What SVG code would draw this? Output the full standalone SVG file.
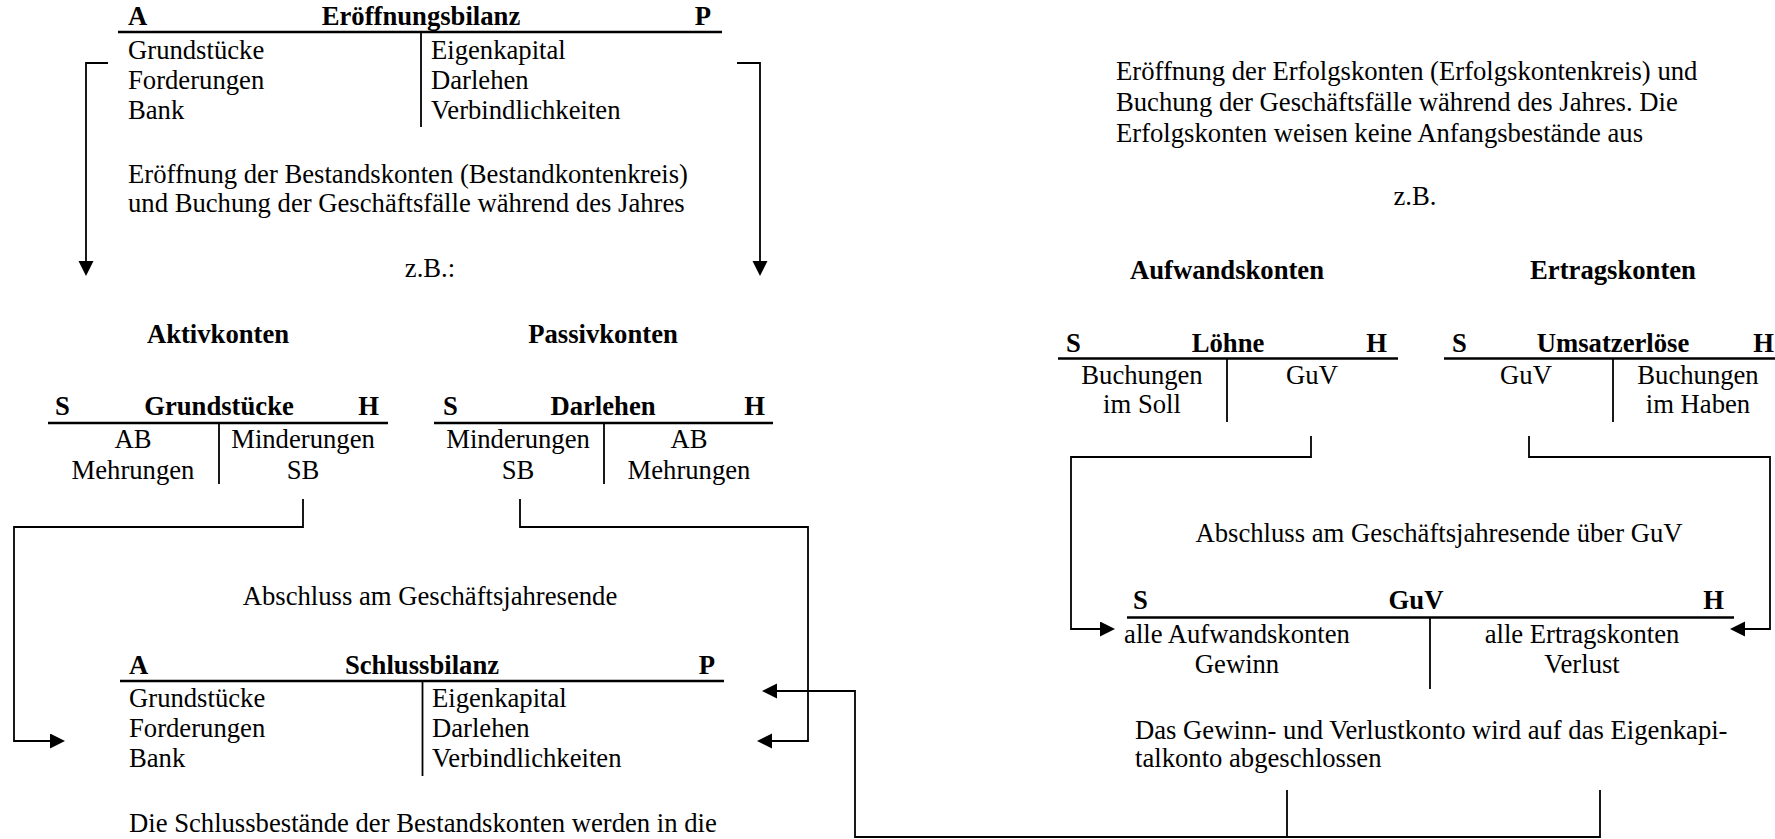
<svg xmlns="http://www.w3.org/2000/svg" width="1775" height="839" viewBox="0 0 1775 839">
<style>
text{font-family:"Liberation Serif","Times New Roman",serif;font-size:26.67px;fill:#000}
.b{font-weight:bold}
.m{text-anchor:middle}
.e{text-anchor:end}
.ul{stroke:#000;stroke-width:2.5;fill:none}
.vl{stroke:#000;stroke-width:1.8;fill:none}
.cn{stroke:#000;stroke-width:1.8;fill:none}
.ar{marker-end:url(#ah)}
</style>
<defs>
<marker id="ah" markerUnits="userSpaceOnUse" markerWidth="16" markerHeight="16" refX="13" refY="7.5" orient="auto" viewBox="0 0 16 16">
<path d="M0,0 L15,7.5 L0,15 z" fill="#000"/>
</marker>
</defs>
<rect width="1775" height="839" fill="#fff"/>

<g id="eroeffnungsbilanz">
<text x="128" y="25" class="b">A</text>
<text x="421" y="25" class="b m">Eröffnungsbilanz</text>
<text x="711" y="25" class="b e">P</text>
<line x1="118" y1="32" x2="722" y2="32" class="ul"/>
<line x1="421" y1="32" x2="421" y2="127" class="vl"/>
<text x="128" y="59">Grundstücke</text>
<text x="128" y="89">Forderungen</text>
<text x="128" y="119">Bank</text>
<text x="431" y="59">Eigenkapital</text>
<text x="431" y="89">Darlehen</text>
<text x="431" y="119">Verbindlichkeiten</text>
</g>

<g id="text-bestandskonten">
<text x="128" y="183">Eröffnung der Bestandskonten (Bestandkontenkreis)</text>
<text x="128" y="212">und Buchung der Geschäftsfälle während des Jahres</text>
<text x="430" y="277" class="m">z.B.:</text>
<text x="218" y="343" class="b m">Aktivkonten</text>
<text x="603" y="343" class="b m">Passivkonten</text>
</g>

<g id="konto-grundstuecke">
<text x="55" y="415" class="b">S</text>
<text x="219" y="415" class="b m">Grundstücke</text>
<text x="379" y="415" class="b e">H</text>
<line x1="48" y1="423" x2="388" y2="423" class="ul"/>
<line x1="219" y1="423" x2="219" y2="484" class="vl"/>
<text x="133" y="448" class="m">AB</text>
<text x="133" y="479" class="m">Mehrungen</text>
<text x="303" y="448" class="m">Minderungen</text>
<text x="303" y="479" class="m">SB</text>
</g>

<g id="konto-darlehen">
<text x="443" y="415" class="b">S</text>
<text x="603" y="415" class="b m">Darlehen</text>
<text x="765" y="415" class="b e">H</text>
<line x1="434" y1="423" x2="773" y2="423" class="ul"/>
<line x1="604" y1="423" x2="604" y2="484" class="vl"/>
<text x="518" y="448" class="m">Minderungen</text>
<text x="518" y="479" class="m">SB</text>
<text x="689" y="448" class="m">AB</text>
<text x="689" y="479" class="m">Mehrungen</text>
</g>

<g id="text-abschluss">
<text x="430" y="605" class="m">Abschluss am Geschäftsjahresende</text>
</g>

<g id="schlussbilanz">
<text x="129" y="674" class="b">A</text>
<text x="422" y="674" class="b m">Schlussbilanz</text>
<text x="715" y="674" class="b e">P</text>
<line x1="120" y1="681" x2="724" y2="681" class="ul"/>
<line x1="422.5" y1="681" x2="422.5" y2="776" class="vl"/>
<text x="129" y="707">Grundstücke</text>
<text x="129" y="737">Forderungen</text>
<text x="129" y="767">Bank</text>
<text x="432" y="707">Eigenkapital</text>
<text x="432" y="737">Darlehen</text>
<text x="432" y="767">Verbindlichkeiten</text>
</g>

<g id="text-schlussbestaende">
<text x="129" y="832">Die Schlussbestände der Bestandskonten werden in die</text>
</g>

<g id="text-erfolgskonten">
<text x="1116" y="80">Eröffnung der Erfolgskonten (Erfolgskontenkreis) und</text>
<text x="1116" y="111">Buchung der Geschäftsfälle während des Jahres. Die</text>
<text x="1116" y="142">Erfolgskonten weisen keine Anfangsbestände aus</text>
<text x="1415" y="205" class="m">z.B.</text>
<text x="1227" y="279" class="b m">Aufwandskonten</text>
<text x="1613" y="279" class="b m">Ertragskonten</text>
</g>

<g id="konto-loehne">
<text x="1066" y="352" class="b">S</text>
<text x="1228" y="352" class="b m">Löhne</text>
<text x="1387" y="352" class="b e">H</text>
<line x1="1058" y1="358.5" x2="1398" y2="358.5" class="ul"/>
<line x1="1227" y1="358.5" x2="1227" y2="422" class="vl"/>
<text x="1142" y="384" class="m">Buchungen</text>
<text x="1142" y="413" class="m">im Soll</text>
<text x="1312" y="384" class="m">GuV</text>
</g>

<g id="konto-umsatzerloese">
<text x="1452" y="352" class="b">S</text>
<text x="1613" y="352" class="b m">Umsatzerlöse</text>
<text x="1774" y="352" class="b e">H</text>
<line x1="1444" y1="358.5" x2="1775" y2="358.5" class="ul"/>
<line x1="1613" y1="358.5" x2="1613" y2="422" class="vl"/>
<text x="1526" y="384" class="m">GuV</text>
<text x="1698" y="384" class="m">Buchungen</text>
<text x="1698" y="413" class="m">im Haben</text>
</g>

<g id="text-abschluss-guv">
<text x="1439" y="542" class="m">Abschluss am Geschäftsjahresende über GuV</text>
</g>

<g id="konto-guv">
<text x="1133" y="609" class="b">S</text>
<text x="1416" y="609" class="b m">GuV</text>
<text x="1724" y="609" class="b e">H</text>
<line x1="1127" y1="617.5" x2="1734" y2="617.5" class="ul"/>
<line x1="1430" y1="617.5" x2="1430" y2="689" class="vl"/>
<text x="1237" y="643" class="m">alle Aufwandskonten</text>
<text x="1237" y="673" class="m">Gewinn</text>
<text x="1582" y="643" class="m">alle Ertragskonten</text>
<text x="1582" y="673" class="m">Verlust</text>
</g>

<g id="text-guv-abschluss">
<text x="1135" y="739">Das Gewinn- und Verlustkonto wird auf das Eigenkapi-</text>
<text x="1135" y="767">talkonto abgeschlossen</text>
</g>

<g id="connectors">
<path d="M108,63 H86 V274" class="cn ar"/>
<path d="M737,63 H760 V274" class="cn ar"/>
<path d="M303,499 V527 H14 V741 H63" class="cn ar"/>
<path d="M520,499 V527 H808 V741 H759" class="cn ar"/>
<path d="M1600,790 V837 H855 V691 H764" class="cn ar"/>
<path d="M1287,790 V837" class="cn"/>
<path d="M1311,436 V457 H1071 V629 H1113" class="cn ar"/>
<path d="M1529,436 V457 H1770 V629 H1732" class="cn ar"/>
</g>
</svg>
